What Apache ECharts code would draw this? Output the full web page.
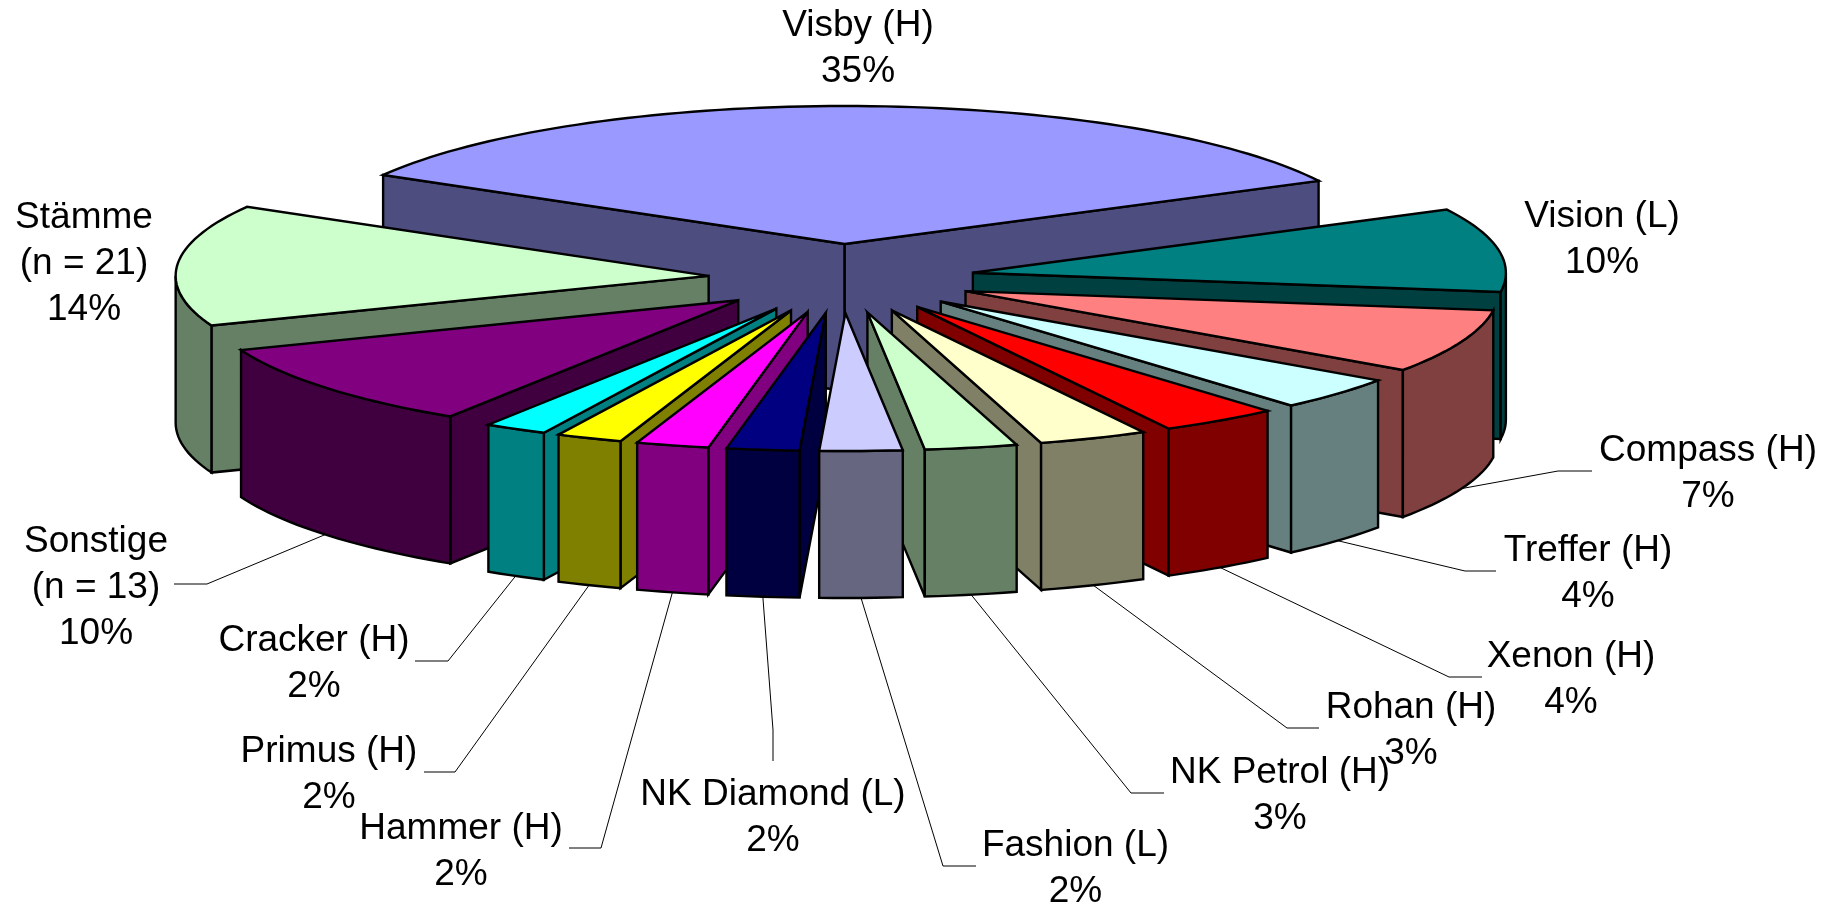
<!DOCTYPE html>
<html>
<head>
<meta charset="utf-8">
<style>html,body{margin:0;padding:0;background:#fff}#chart{width:1841px;height:905px}</style>
<script src="https://cdn.jsdelivr.net/npm/echarts@6/dist/echarts.min.js"></script>
</head>
<body>
<div id="chart"></div>
<script>
// ---- data ----
var sliceNames = ['Visby (H)','Vision (L)','Compass (H)','Treffer (H)','Xenon (H)','Rohan (H)','NK Petrol (H)','Fashion (L)','NK Diamond (L)','Hammer (H)','Primus (H)','Cracker (H)','Sonstige\n(n = 13)','Stämme\n(n = 21)'];
var sliceShares = [34.1,9.8,7.45,3.9,3.6,3.3,2.8,2.5,2.2,2.2,2.0,1.9,10.05,14.2];
var shareLabels = ['35%','10%','7%','4%','4%','3%','3%','2%','2%','2%','2%','2%','10%','14%'];
var sliceColors = ['#9999FF','#008080','#FF8080','#CCFFFF','#FF0000','#FFFFCC','#CCFFCC','#CCCCFF','#000080','#FF00FF','#FFFF00','#00FFFF','#800080','#CCFFCC'];

// ---- layout (pixels) ----
var pie = {cx:841.5, cy:278.5, rx:533, ry:138, depth:147, explode:0.25, startDeg:-60};
var labelCenters = [[858,49],[1602,240],[1708,473.5],[1588,573.5],[1571,679.5],[1411,730.5],[1280,795.5],[1075.5,868.5],[773,817.5],[461,851.5],[329,774.5],[314,663.5],[96,587.5],[84,263.5]];
// [elbowX, elbowY, endX, endY]
var leaderBends = [null,null,[1558,471,1592,471],[1465,571,1496,571],[1449,677,1482,677],[1287,728,1319,728],[1131,793,1164,793],[943,866,976,866],[773,730,773,761],[601,848,569,848],[455,772,424,772],[448,661,415,661],[207,584,174,584],null];

var RAD = Math.PI/180;
var total = sliceShares.reduce(function(a,b){return a+b;},0);
var slices = [], acc = pie.startDeg;
sliceShares.forEach(function(v,i){
  var a0 = acc, a1 = acc + v/total*360; acc = a1;
  var m = (a0+a1)/2;
  slices.push({a0:a0,a1:a1,mid:m,
    ax:pie.cx+pie.rx*pie.explode*Math.sin(m*RAD),
    ay:pie.cy-pie.ry*pie.explode*Math.cos(m*RAD)});
});
// painter's order: back slices first
var paintRank = [];
slices.map(function(s,i){return {i:i,k:s.ay};}).sort(function(a,b){return a.k-b.k;}).forEach(function(o,r){paintRank[o.i]=r;});

function rimPoint(s,deg){return [s.ax+pie.rx*Math.sin(deg*RAD), s.ay-pie.ry*Math.cos(deg*RAD)];}
function arc(s,d0,d1){var n=Math.max(2,Math.ceil((d1-d0)/1.5)),p=[];for(var k=0;k<=n;k++)p.push(rimPoint(s,d0+(d1-d0)*k/n));return p;}
function down(p){return [p[0],p[1]+pie.depth];}
function halfTone(hex){var n=parseInt(hex.slice(1),16);function c(v){return Math.round(v/2);}return 'rgb('+c(n>>16&255)+','+c(n>>8&255)+','+c(n&255)+')';}

function renderSlice(params,api){
  var i = params.dataIndex, s = slices[i], base = paintRank[i]*10+10;
  var top = sliceColors[i], wall = halfTone(top), kids = [];
  var apex = [s.ax,s.ay];
  function poly(points,fill,z){kids.push({type:'polygon',z2:base+z,shape:{points:points},style:{fill:fill,stroke:'#000',lineWidth:2.4,lineJoin:'miter',miterLimit:5}});}
  var pa = rimPoint(s,s.a0), pb = rimPoint(s,s.a1);
  if(Math.sin(s.a0*RAD)<0) poly([apex,pa,down(pa),down(apex)],wall,0);
  if(Math.sin(s.a1*RAD)>0) poly([apex,pb,down(pb),down(apex)],wall,1);
  var f0 = Math.max(s.a0,90), f1 = Math.min(s.a1,270);
  if(f1>f0){var front=arc(s,f0,f1);poly(front.concat(front.map(down).reverse()),wall,2);}
  poly([apex].concat(arc(s,s.a0,s.a1)),top,3);
  // leader and label
  var bend = leaderBends[i];
  if(bend){
    var st = down(rimPoint(s,s.mid));
    kids.push({type:'polyline',z2:1,shape:{points:[st,[bend[0],bend[1]],[bend[2],bend[3]]]},style:{fill:null,stroke:'#000',lineWidth:1}});
  }
  var c = labelCenters[i];
  kids.push({type:'text',z2:500,x:c[0],y:c[1],style:{text:sliceNames[i]+'\n'+shareLabels[i],font:'37px "Liberation Sans", Arial, sans-serif',fill:'#000',align:'center',verticalAlign:'middle',lineHeight:46}});
  return {type:'group',children:kids};
}

var chart = echarts.init(document.getElementById('chart'));
chart.setOption({
  animation:false,
  backgroundColor:'#fff',
  series:[{type:'custom',coordinateSystem:'none',silent:true,clip:false,renderItem:renderSlice,
    data:sliceNames.map(function(n,i){return {name:n,value:[sliceShares[i]]};})}]
});
</script>
</body>
</html>
